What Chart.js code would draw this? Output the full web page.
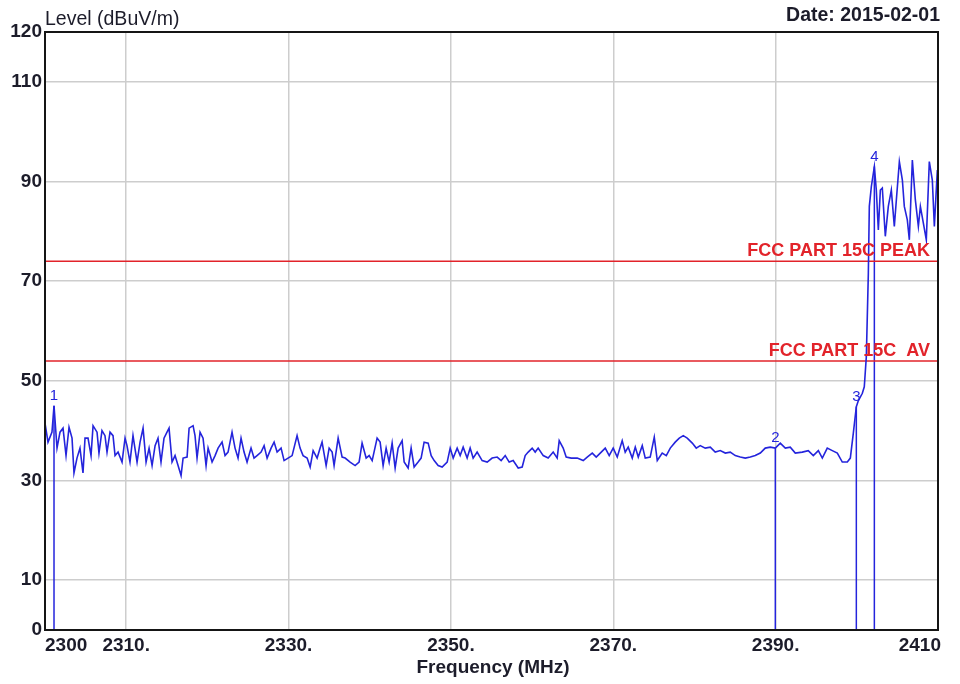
<!DOCTYPE html>
<html>
<head>
<meta charset="utf-8">
<script src="https://cdn.jsdelivr.net/npm/chart.js@4.4.1/dist/chart.umd.min.js"></script>
<style>
    body { margin: 0; background: #ffffff; }
    canvas { display: block; }
</style>
</head>
<body>
<canvas id="spectrumChart" width="960" height="684"></canvas>
<script>
// Trace (frequency in MHz, level in dBuV/m)
const freqs = [
    2300.00, 2300.37, 2300.86, 2301.11, 2301.48, 2301.85, 2302.22, 2302.59, 2302.96, 2303.33,
    2303.57, 2303.94, 2304.31, 2304.68, 2304.93, 2305.30, 2305.67, 2305.92, 2306.41, 2306.65,
    2307.02, 2307.39, 2307.64, 2308.01, 2308.38, 2308.63, 2309.00, 2309.49, 2309.86, 2310.10,
    2310.47, 2310.84, 2311.34, 2311.71, 2312.08, 2312.45, 2312.82, 2313.19, 2313.56, 2313.92,
    2314.29, 2314.66, 2315.03, 2315.28, 2315.65, 2316.02, 2316.39, 2316.76, 2317.01, 2317.50,
    2317.75, 2318.24, 2318.48, 2318.73, 2319.10, 2319.47, 2319.84, 2320.09, 2320.58, 2320.95,
    2321.32, 2321.81, 2322.18, 2322.55, 2323.04, 2323.41, 2323.78, 2324.15, 2324.52, 2324.89,
    2325.38, 2325.75, 2326.12, 2326.62, 2326.99, 2327.36, 2327.85, 2328.22, 2328.59, 2329.08,
    2329.45, 2329.94,
    2330.44, 2331.05, 2331.42, 2331.79, 2332.29, 2332.66, 2333.03, 2333.52, 2333.89, 2334.13,
    2334.63, 2335.00, 2335.37, 2335.61, 2336.11, 2336.60, 2336.97, 2337.58, 2338.20, 2338.69,
    2339.06, 2339.56, 2339.93, 2340.30, 2340.91, 2341.28, 2341.65, 2342.02, 2342.39, 2342.76,
    2343.13, 2343.50, 2343.99, 2344.24, 2344.73, 2345.10, 2345.47, 2345.96, 2346.33, 2346.70,
    2347.20, 2347.57, 2347.94, 2348.43, 2348.92, 2349.54, 2349.91, 2350.28, 2350.77, 2351.14,
    2351.51, 2352.00, 2352.37, 2352.74, 2353.23, 2353.85, 2354.47, 2355.08, 2355.70, 2356.19,
    2356.69, 2357.18, 2357.67, 2358.29, 2358.78, 2359.15, 2359.52, 2360.01, 2360.38, 2360.75,
    2361.37,
    2361.98, 2362.60, 2363.09, 2363.34, 2363.83, 2364.20, 2364.82, 2365.56, 2366.30, 2366.79,
    2367.41, 2367.90, 2368.52, 2369.01, 2369.50, 2369.99, 2370.49, 2371.10, 2371.47, 2371.84,
    2372.34, 2372.71, 2373.08, 2373.57, 2373.94, 2374.55, 2375.05, 2375.42, 2376.03, 2376.53,
    2377.02, 2377.63, 2378.13, 2378.62, 2379.11, 2379.73, 2380.22, 2380.71, 2381.33, 2381.95,
    2382.56, 2383.18, 2383.80, 2384.41, 2385.03, 2385.64, 2386.26, 2386.88, 2387.49, 2388.11,
    2388.72, 2389.34, 2389.96, 2390.57, 2391.19, 2391.80, 2392.42,
    2393.28, 2394.02, 2394.64, 2395.26, 2395.75, 2396.36, 2396.98, 2397.60, 2398.21, 2398.83,
    2399.20, 2399.57, 2399.94, 2400.18, 2400.68, 2400.92, 2401.17, 2401.42, 2401.54, 2401.79,
    2402.16, 2402.40, 2402.65, 2402.90, 2403.14, 2403.51, 2403.88, 2404.25, 2404.62, 2404.87,
    2405.24, 2405.61, 2405.85, 2406.22, 2406.47, 2406.84, 2407.21, 2407.58, 2407.83, 2408.19,
    2408.56, 2408.93, 2409.30, 2409.55, 2409.92
];
const levels = [
    41.5, 37.7, 39.7, 45.0, 36.5, 39.7, 40.5, 35.0, 40.7, 38.5,
    31.5, 34.5, 36.5, 31.5, 38.5, 38.5, 35.0, 41.0, 39.7, 35.5,
    40.0, 39.0, 35.7, 39.7, 39.0, 35.0, 35.7, 33.7, 38.5, 37.0,
    33.7, 39.0, 33.7, 37.7, 40.5, 33.7, 36.5, 33.0, 37.0, 38.5,
    33.7, 38.5, 39.7, 40.5, 33.7, 35.0, 33.0, 31.0, 34.5, 34.7,
    40.5, 41.0, 39.0, 34.5, 39.7, 38.5, 33.0, 36.5, 33.7, 35.0,
    36.5, 37.7, 35.0, 35.7, 39.7, 36.5, 34.5, 38.5, 35.7, 33.7,
    36.5, 34.5, 35.0, 35.7, 37.0, 34.5, 36.5, 37.7, 35.7, 36.5,
    34.0, 34.5,
    35.0, 39.0, 36.5, 35.0, 34.5, 32.7, 36.0, 34.5, 36.5, 37.7,
    33.0, 36.5, 35.7, 33.0, 38.5, 34.7, 34.5, 33.7, 33.0, 33.7,
    37.5, 34.5, 35.0, 34.0, 38.5, 37.7, 33.0, 36.5, 33.7, 37.5,
    32.5, 36.5, 38.0, 33.7, 32.5, 36.5, 32.7, 33.7, 34.5, 37.7,
    37.5, 35.0, 34.0, 33.0, 32.7, 33.7, 36.5, 34.5, 36.5, 35.0,
    36.7, 34.5, 36.5, 34.5, 35.7, 34.0, 33.7, 34.5, 34.7, 34.0,
    35.0, 33.7, 34.0, 32.5, 32.7, 35.0, 35.7, 36.5, 35.7, 36.5,
    35.0,
    34.5, 35.7, 34.5, 38.0, 36.5, 34.7, 34.5, 34.5, 34.0, 34.7,
    35.5, 34.7, 35.7, 36.5, 35.0, 36.5, 34.7, 38.0, 35.7, 36.7,
    34.5, 36.7, 34.7, 37.0, 34.5, 34.7, 38.7, 34.0, 35.5, 35.0,
    36.5, 37.7, 38.5, 39.0, 38.5, 37.5, 36.5, 37.0, 36.5, 36.7,
    35.7, 36.0, 35.5, 35.7, 35.0, 34.7, 34.5, 34.7, 35.0, 35.5,
    36.5, 36.7, 36.5, 37.5, 36.5, 36.7, 35.5,
    35.7, 36.0, 35.0, 36.0, 34.5, 36.5, 36.0, 35.5, 33.7, 33.7,
    34.5, 39.5, 44.8, 46.0, 47.5, 48.8, 54.8, 71.6, 85.0, 89.0,
    93.0, 88.3, 80.3, 88.3, 88.7, 79.0, 85.0, 88.3, 81.0, 86.3,
    94.0, 90.3, 85.0, 82.3, 78.3, 94.3, 86.3, 81.0, 85.0, 81.7,
    78.3, 94.0, 90.3, 81.0, 92.3
];

// Markers
const markerNames = ["1", "2", "3", "4"];
const markerFreqs = [2301.11, 2389.96, 2399.94, 2402.16];
const markerLevels = [45.0, 36.5, 44.8, 93.0];

// Limit lines
const limitNames = ["FCC PART 15C PEAK", "FCC PART 15C  AV"];
const limitLevels = [74, 54];

// Axes
const xMin = 2300;
const xMax = 2410;
const xTicks = [2300, 2310, 2330, 2350, 2370, 2390, 2410];
const xTickLabels = ["2300", "2310.", "2330.", "2350.", "2370.", "2390.", "2410"];
const yTicks = [0, 10, 30, 50, 70, 90, 110, 120];

const traceColor = "#2424dc";
const limitColor = "#e2232a";
const textColor = "#1c1c2a";
const fontFamily = "'Liberation Sans', Arial, sans-serif";

// Build datasets
const traceData = freqs.map((f, i) => ({ x: f, y: levels[i] }));

const limitDatasets = limitLevels.map((lv, i) => ({
    label: limitNames[i],
    data: [{ x: xMin, y: lv }, { x: xMax, y: lv }],
    borderColor: limitColor,
    borderWidth: 1.5,
    pointRadius: 0
}));

const markerDatasets = markerFreqs.map((f, i) => ({
    label: "Marker " + markerNames[i],
    data: [{ x: f, y: 0 }, { x: f, y: markerLevels[i] }],
    borderColor: traceColor,
    borderWidth: 1.5,
    pointRadius: 0
}));

// Texts, borders and marker numbers
const overlayPlugin = {
    id: "overlay",
    afterDraw(chart) {
        const ctx = chart.ctx;
        const area = chart.chartArea;
        const xs = chart.scales.x;
        const ys = chart.scales.y;

        ctx.save();
        // plot frame
        ctx.strokeStyle = "#151515";
        ctx.lineWidth = 2;
        ctx.strokeRect(area.left, area.top, area.right - area.left, area.bottom - area.top);

        // titles
        ctx.fillStyle = textColor;
        ctx.textBaseline = "alphabetic";
        ctx.font = "19.5px " + fontFamily;
        ctx.textAlign = "left";
        ctx.fillText("Level (dBuV/m)", area.left, 25);

        ctx.font = "bold 19.5px " + fontFamily;
        ctx.textAlign = "right";
        ctx.fillText("Date: 2015-02-01", 940, 21);

        ctx.font = "bold 19px " + fontFamily;
        ctx.textAlign = "center";
        ctx.fillText("Frequency (MHz)", 493, 673);

        // x tick labels
        xTicks.forEach((v, i) => {
            const px = xs.getPixelForValue(v);
            if (i === 0) {
                ctx.textAlign = "left";
            } else if (i === xTicks.length - 1) {
                ctx.textAlign = "right";
            } else {
                ctx.textAlign = "center";
            }
            ctx.fillText(xTickLabels[i], i === xTicks.length - 1 ? px + 3 : px, 651);
        });

        // limit labels
        ctx.fillStyle = limitColor;
        ctx.font = "bold 18px " + fontFamily;
        ctx.textAlign = "right";
        limitLevels.forEach((lv, i) => {
            ctx.fillText(limitNames[i], area.right - 8, ys.getPixelForValue(lv) - 5);
        });

        // marker numbers
        ctx.fillStyle = traceColor;
        ctx.font = "15px " + fontFamily;
        ctx.textAlign = "center";
        markerFreqs.forEach((f, i) => {
            ctx.fillText(markerNames[i], xs.getPixelForValue(f), ys.getPixelForValue(markerLevels[i]) - 6);
        });
        ctx.restore();
    }
};

const ctx = document.getElementById("spectrumChart").getContext("2d");
const spectrumChart = new Chart(ctx, {
    type: "line",
    data: {
        datasets: [
            {
                label: "Trace",
                data: traceData,
                borderColor: traceColor,
                borderWidth: 1.6,
                pointRadius: 0,
                tension: 0
            },
            ...limitDatasets,
            ...markerDatasets
        ]
    },
    options: {
        responsive: false,
        animation: false,
        devicePixelRatio: 1,
        layout: {
            padding: { top: 32, right: 22, bottom: 0, left: 0 }
        },
        scales: {
            x: {
                type: "linear",
                min: xMin,
                max: xMax,
                afterBuildTicks: (scale) => {
                    scale.ticks = xTicks.map(v => ({ value: v }));
                },
                afterFit: (scale) => {
                    scale.height = 54;
                },
                ticks: { display: false },
                grid: {
                    drawTicks: false,
                    lineWidth: 1.5,
                    color: (c) => (c.tick && (c.tick.value === xMin || c.tick.value === xMax)) ? "rgba(0,0,0,0)" : "#cdcdcd"
                },
                border: { display: false }
            },
            y: {
                min: 0,
                max: 120,
                afterBuildTicks: (scale) => {
                    scale.ticks = yTicks.map(v => ({ value: v }));
                },
                afterFit: (scale) => {
                    scale.width = 45;
                },
                ticks: {
                    padding: 3,
                    color: textColor,
                    font: { family: fontFamily, size: 19, weight: "bold" }
                },
                grid: {
                    drawTicks: false,
                    lineWidth: 1.5,
                    color: (c) => (c.tick && (c.tick.value === 0 || c.tick.value === 120)) ? "rgba(0,0,0,0)" : "#cdcdcd"
                },
                border: { display: false }
            }
        },
        plugins: {
            legend: { display: false },
            tooltip: { enabled: false }
        }
    },
    plugins: [overlayPlugin]
});
</script>
</body>
</html>
